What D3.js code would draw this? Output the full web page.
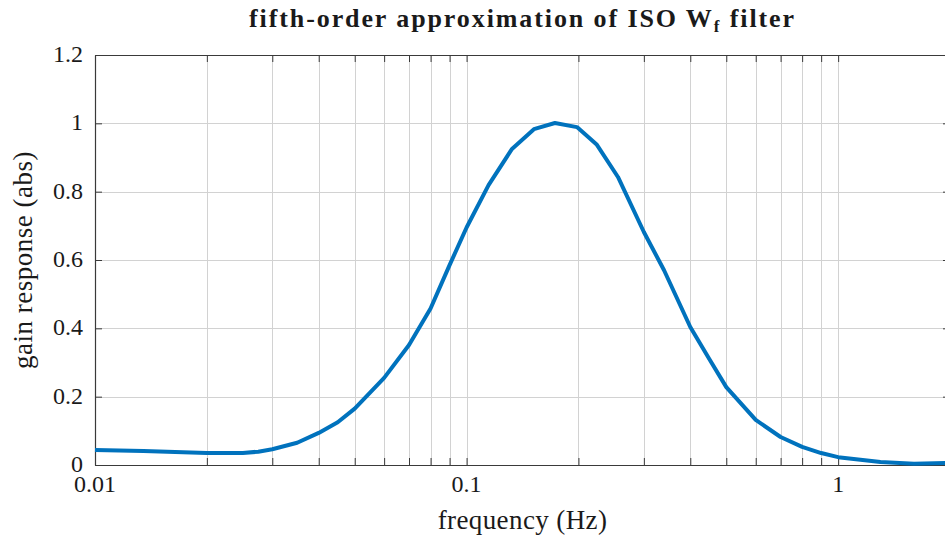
<!DOCTYPE html>
<html>
<head>
<meta charset="utf-8">
<script src="https://cdn.jsdelivr.net/npm/d3@7"></script>
<style>
  html, body { margin: 0; padding: 0; background: #fff; }
  svg { display: block; }
  text { font-family: "Liberation Serif", "Times New Roman", serif; fill: #1a1a1a; }
</style>
</head>
<body>
<svg id="chart" width="945" height="537"></svg>
<script>
// ---- data ----
const frequencyHz = [0.01, 0.0135, 0.02, 0.025, 0.0275, 0.03, 0.035, 0.04, 0.045, 0.05, 0.06, 0.07, 0.08, 0.09, 0.1,
  0.1146, 0.1325, 0.1518, 0.1729, 0.1982, 0.2243, 0.2555, 0.3, 0.34, 0.4, 0.45, 0.5, 0.6, 0.7, 0.8, 0.9, 1.0,
  1.3, 1.6, 2.0];
const gainAbs = [0.044, 0.041, 0.035, 0.035, 0.039, 0.046, 0.065, 0.094, 0.125, 0.165, 0.255, 0.351, 0.458, 0.585, 0.695,
  0.819, 0.925, 0.983, 1.001, 0.989, 0.937, 0.843, 0.682, 0.57, 0.404, 0.31, 0.228, 0.132, 0.082, 0.053, 0.035, 0.023,
  0.009, 0.004, 0.006];
const xTickValues = [0.01, 0.1, 1];
const xTickLabels = ["0.01", "0.1", "1"];
const yTickValues = [0, 0.2, 0.4, 0.6, 0.8, 1, 1.2];
const yTickLabels = ["0", "0.2", "0.4", "0.6", "0.8", "1", "1.2"];
const xDomain = [0.01, 2];
const yDomain = [0, 1.2];

// ---- layout ----
const svg = d3.select("#chart");
const margin = { left: 95, top: 55, right: -5, bottom: 72 };
const W = 945, H = 537;
const x0 = margin.left, x1 = W - margin.right;
const y0 = H - margin.bottom, y1 = margin.top;

const x = d3.scaleLog().domain(xDomain).range([x0, x1]);
const y = d3.scaleLinear().domain(yDomain).range([y0, y1]);

// minor ticks for grid
const minorTicks = [];
for (let e = -2; e <= 0; e++) {
  for (let m = 1; m <= 9; m++) {
    const v = m * Math.pow(10, e);
    if (v >= xDomain[0] && v <= xDomain[1]) minorTicks.push(+v.toPrecision(3));
  }
}
minorTicks.push(2);

const gridColor = "#d2d2d2";
const axisColor = "#3a3a3a";

// vertical grid
svg.append("g").selectAll("line").data(minorTicks).join("line")
  .attr("x1", d => Math.round(x(d)) + 0.5).attr("x2", d => Math.round(x(d)) + 0.5)
  .attr("y1", y1).attr("y2", y0)
  .attr("stroke", gridColor).attr("stroke-width", 1);

// horizontal grid
svg.append("g").selectAll("line").data(yTickValues).join("line")
  .attr("x1", x0).attr("x2", x1)
  .attr("y1", d => Math.round(y(d)) + 0.5).attr("y2", d => Math.round(y(d)) + 0.5)
  .attr("stroke", gridColor).attr("stroke-width", 1);

// axes via d3
const tickLen = 7;
const xAxisB = d3.axisBottom(x).tickValues(minorTicks).tickSize(-tickLen).tickSizeOuter(0).tickFormat("");
const xAxisT = d3.axisTop(x).tickValues(minorTicks).tickSize(-tickLen).tickSizeOuter(0).tickFormat("");
const yAxisL = d3.axisLeft(y).tickValues(yTickValues).tickSize(-tickLen).tickSizeOuter(0).tickFormat("");
const yAxisR = d3.axisRight(y).tickValues(yTickValues).tickSize(-tickLen).tickSizeOuter(0).tickFormat("");

function styleAxis(g) {
  g.selectAll("path").attr("stroke", axisColor).attr("stroke-width", 1.2);
  g.selectAll("line").attr("stroke", axisColor).attr("stroke-width", 1);
}
svg.append("g").attr("transform", `translate(0,${y0})`).call(xAxisB).call(styleAxis);
svg.append("g").attr("transform", `translate(0,${y1})`).call(xAxisT).call(styleAxis);
svg.append("g").attr("transform", `translate(${x0},0)`).call(yAxisL).call(styleAxis);
svg.append("g").attr("transform", `translate(${x1},0)`).call(yAxisR).call(styleAxis);

// tick labels
svg.append("g").selectAll("text").data(xTickValues).join("text")
  .attr("x", d => x(d)).attr("y", y0 + 27)
  .attr("text-anchor", "middle").attr("font-size", 24)
  .text((d, i) => xTickLabels[i]);
svg.append("g").selectAll("text").data(yTickValues).join("text")
  .attr("x", x0 - 12).attr("y", d => y(d) + 7)
  .attr("text-anchor", "end").attr("font-size", 24)
  .text((d, i) => yTickLabels[i]);

// data line
const line = d3.line().x((d, i) => x(frequencyHz[i])).y(d => y(d)).curve(d3.curveLinear);
svg.append("path").datum(gainAbs)
  .attr("d", line)
  .attr("fill", "none").attr("stroke", "#0072BD").attr("stroke-width", 4)
  .attr("stroke-linejoin", "round");

// labels
svg.append("text").attr("x", (x0 + x1) / 2).attr("y", 529)
  .attr("text-anchor", "middle").attr("font-size", 27).attr("letter-spacing", 0.4).text("frequency (Hz)");
svg.append("text").attr("transform", `translate(32,${(y0 + y1) / 2}) rotate(-90)`)
  .attr("text-anchor", "middle").attr("font-size", 27).attr("letter-spacing", 0.5).text("gain response (abs)");

const title = svg.append("text").attr("x", (x0 + x1) / 2).attr("y", 27)
  .attr("text-anchor", "middle").attr("font-size", 26).attr("font-weight", "bold").attr("letter-spacing", 1.9);
title.append("tspan").text("fifth-order approximation of ISO W");
title.append("tspan").attr("font-size", 17).attr("dy", 5).text("f");
title.append("tspan").attr("dy", -5).text(" filter");
</script>
</body>
</html>
